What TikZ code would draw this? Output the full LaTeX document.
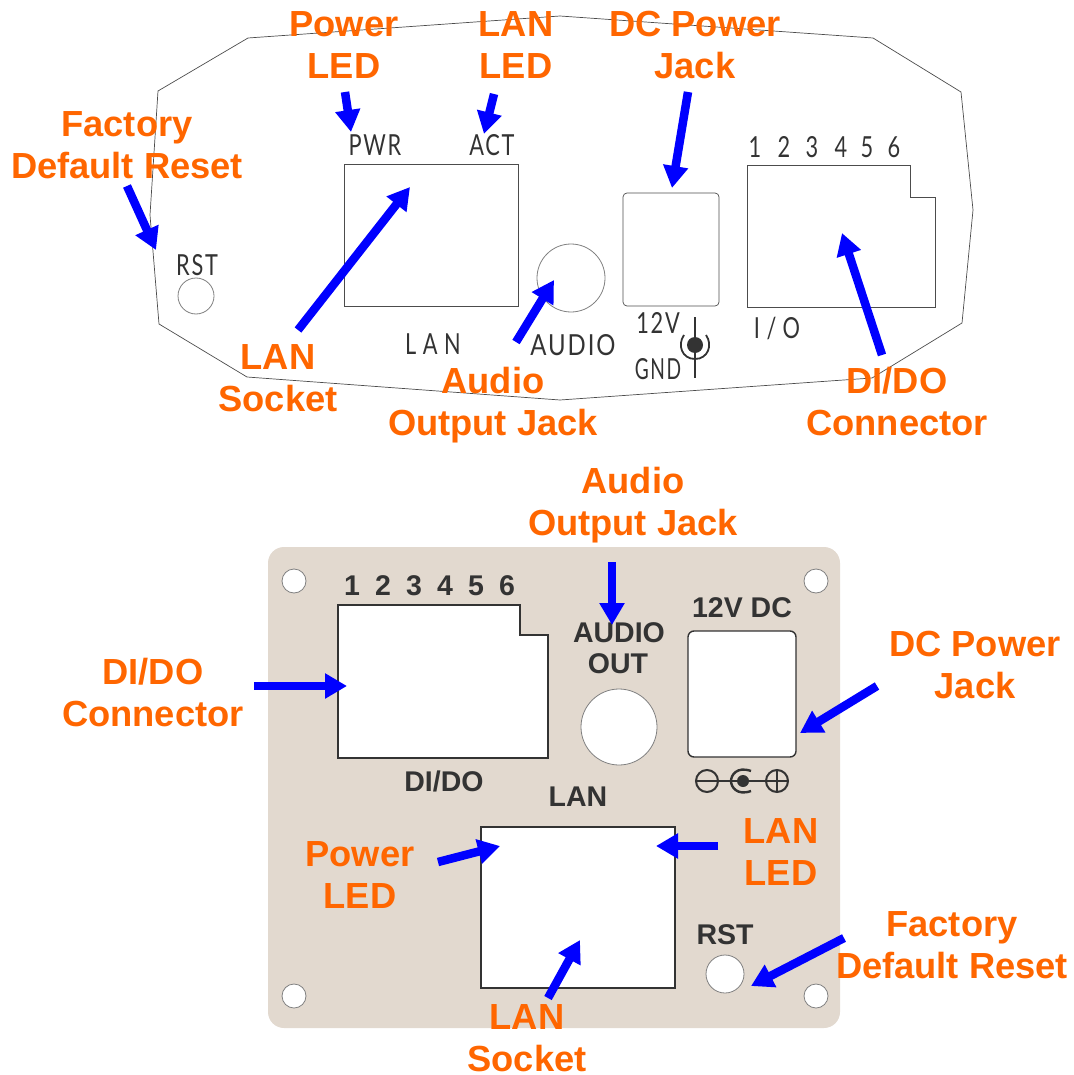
\documentclass[tikz,border=0pt]{standalone}
\usepackage{xcolor}
\usepackage{fontspec}
\setmainfont{Liberation Sans}
\newfontfamily\panelfont[LetterSpace=8]{Lato}
\newfontfamily\panelwide[LetterSpace=30]{Lato}
\usetikzlibrary{arrows.meta}
\definecolor{callout}{HTML}{FF6600}
\definecolor{plate}{HTML}{E2D9CF}
\definecolor{ink}{HTML}{333333}

\begin{document}
\begin{tikzpicture}[
  x=1pt, y=-1pt,
  every node/.style={inner sep=0pt, outer sep=0pt},
  callout/.style={font=\fontsize{36.3}{42}\selectfont\bfseries, text=callout, align=center},
  pointer/.style={draw=blue, line width=8.5pt, -{Triangle[length=22pt, width=24pt]}},
  thinprint/.style={font=\fontsize{29}{29}\selectfont\panelfont, text=ink, xscale=.75},
  wideprint/.style={font=\fontsize{29}{29}\selectfont\panelwide, text=ink, xscale=.75},
  boldprint/.style={font=\fontsize{28.5}{28.5}\selectfont\bfseries, text=ink},
  hole/.style={circle, draw=gray, fill=white, line width=0.8pt},
  outline/.style={draw=black!70, line width=0.7pt},
  cutout/.style={draw=ink, fill=white, line width=1.4pt}
]
  \useasboundingbox (0,0) rectangle (1073,1075);

  \draw[outline] (159,324) -- (150,215) -- (158,91) -- (248,38) -- (560,16) -- (873,38)
    -- (961,92) -- (973,210) -- (962,323) -- (872,378) -- (560,400) -- (247,377) -- cycle;
  \node[hole, minimum size=36pt] (rstT) at (196,296) {};
  \node[hole, minimum size=68pt] (audioT) at (571,278) {};
  \draw[outline] (344,164) rectangle (518,306);
  \draw[outline, rounded corners=4pt] (623,193) rectangle (719,306);
  \draw[outline] (747,165) -- (910,165) -- (910,197) -- (935,197) -- (935,307) -- (747,307) -- cycle;

  \node[thinprint] (pwrT) at (375,145) {PWR};
  \node[thinprint] (actT) at (492,145) {ACT};
  \node[thinprint] (rsttextT) at (197,265) {RST};
  \node[wideprint] (lantextT) at (433,344) {LAN};
  \node[thinprint, xscale=1.1] (audiotextT) at (573,345) {AUDIO};
  \node[wideprint] (ioT) at (777,328) {I/O};
  \node[thinprint] (vT) at (658,323) {12V};
  \node[thinprint, xscale=.88] (gndT) at (658,369) {GND};
  \node[thinprint] (pinAT) at (755,147) {1};
  \node[thinprint] (pinBT) at (784,147) {2};
  \node[thinprint] (pinCT) at (812,147) {3};
  \node[thinprint] (pinDT) at (841,147) {4};
  \node[thinprint] (pinET) at (867,147) {5};
  \node[thinprint] (pinFT) at (894,147) {6};

  \node[circle, fill=ink, minimum size=16pt] (plugT) at (695,345) {};
  \draw[ink, line width=1.8pt] (695,317) -- (plugT.north) (plugT.south) -- (695,378);
  \draw[ink, line width=1.8pt] (684,335) .. controls (677,345) and (682,359) .. (695,359)
    .. controls (708,359) and (713,345) .. (706,335);

  \fill[plate, rounded corners=16pt] (268,547) rectangle (840,1028);
  \node[hole, minimum size=24pt] (holeA) at (294,581) {};
  \node[hole, minimum size=24pt] (holeB) at (816,581) {};
  \node[hole, minimum size=24pt] (holeC) at (294,996) {};
  \node[hole, minimum size=24pt] (holeD) at (816,996) {};
  \node[hole, minimum size=76pt] (audioB) at (619,727) {};
  \node[hole, minimum size=38pt] (rstB) at (725,974) {};
  \draw[cutout] (338,605) -- (520,605) -- (520,635) -- (548,635) -- (548,758) -- (338,758) -- cycle;
  \draw[cutout, rounded corners=6pt] (688,631) rectangle (796,757);
  \draw[cutout] (481,827) rectangle (675,988);

  \node[boldprint] (pinAB) at (352,586) {1};
  \node[boldprint] (pinBB) at (383,586) {2};
  \node[boldprint] (pinCB) at (414,586) {3};
  \node[boldprint] (pinDB) at (445,586) {4};
  \node[boldprint] (pinEB) at (476,586) {5};
  \node[boldprint] (pinFB) at (507,586) {6};
  \node[boldprint] (vdcB) at (742,608) {12V DC};
  \node[boldprint] (audiotextB) at (619,633) {AUDIO};
  \node[boldprint] (outB) at (618,664) {OUT};
  \node[boldprint] (didoB) at (444,781) {DI/DO};
  \node[boldprint] (lantextB) at (578,797) {LAN};
  \node[boldprint] (rsttextB) at (725,935) {RST};

  \node[circle, draw=ink, line width=2pt, minimum size=22pt] (minusB) at (707,781) {};
  \node[circle, draw=ink, line width=2pt, minimum size=22pt] (plusB) at (777,781) {};
  \node[circle, fill=ink, minimum size=12pt] (plugB) at (743,781) {};
  \draw[ink, line width=2pt] (minusB.west) -- (minusB.east) -- (plugB.west);
  \draw[ink, line width=2pt] (plugB.east) -- (plusB.west) -- (plusB.east);
  \draw[ink, line width=2pt] (plusB.north) -- (plusB.south);
  \draw[ink, line width=2.4pt] (751,771) .. controls (737,766) and (731,775) .. (731,781)
    .. controls (731,787) and (737,796) .. (751,791);

  \node[callout] (powerledT) at (344,45) {Power\\LED};
  \node[callout] (lanledT) at (516,45) {LAN\\LED};
  \node[callout] (dcjackT) at (695,45) {DC Power\\Jack};
  \node[callout] (factoryT) at (127,145) {Factory\\Default Reset};
  \node[callout] (socketT) at (278,378) {LAN\\Socket};
  \node[callout] (audiojackT) at (493,405) {Audio\\Output Jack};
  \node[callout] (connectorT) at (897,402) {DI/DO\\Connector};
  \node[callout] (audiojackB) at (633,505) {Audio\\Output Jack};
  \node[callout] (connectorB) at (153,693) {DI/DO\\Connector};
  \node[callout] (dcjackB) at (975,665) {DC Power\\Jack};
  \node[callout] (powerledB) at (360,875) {Power\\LED};
  \node[callout] (lanledB) at (781,852) {LAN\\LED};
  \node[callout] (factoryB) at (952,945) {Factory\\Default Reset};
  \node[callout] (socketB) at (527,1038) {LAN\\Socket};

  \coordinate (powerledTs) at (345,92);   \coordinate (powerledTe) at (351,132);
  \coordinate (lanledTs) at (494,94);     \coordinate (lanledTe) at (484,134);
  \coordinate (dcjackTs) at (688,92);     \coordinate (dcjackTe) at (672,188);
  \coordinate (factoryTs) at (127,186);   \coordinate (factoryTe) at (156,250);
  \coordinate (socketTs) at (298,330);    \coordinate (socketTe) at (410,187);
  \coordinate (audiojackTs) at (516,342); \coordinate (audiojackTe) at (554,280);
  \coordinate (connectorTs) at (882,355); \coordinate (connectorTe) at (842,233);
  \coordinate (audiojackBs) at (612,562); \coordinate (audiojackBe) at (612,625);
  \coordinate (connectorBs) at (254,686); \coordinate (connectorBe) at (347,686);
  \coordinate (dcjackBs) at (877,686);    \coordinate (dcjackBe) at (800,733);
  \coordinate (powerledBs) at (438,862);  \coordinate (powerledBe) at (500,846);
  \coordinate (lanledBs) at (718,846);    \coordinate (lanledBe) at (656,846);
  \coordinate (factoryBs) at (844,938);   \coordinate (factoryBe) at (751,986);
  \coordinate (socketBs) at (548,998);    \coordinate (socketBe) at (580,940);

  \draw[pointer] (powerledTs) -- (powerledTe);
  \draw[pointer] (lanledTs) -- (lanledTe);
  \draw[pointer] (dcjackTs) -- (dcjackTe);
  \draw[pointer] (factoryTs) -- (factoryTe);
  \draw[pointer] (socketTs) -- (socketTe);
  \draw[pointer] (audiojackTs) -- (audiojackTe);
  \draw[pointer] (connectorTs) -- (connectorTe);
  \draw[pointer] (audiojackBs) -- (audiojackBe);
  \draw[pointer] (connectorBs) -- (connectorBe);
  \draw[pointer] (dcjackBs) -- (dcjackBe);
  \draw[pointer] (powerledBs) -- (powerledBe);
  \draw[pointer] (lanledBs) -- (lanledBe);
  \draw[pointer] (factoryBs) -- (factoryBe);
  \draw[pointer] (socketBs) -- (socketBe);
\end{tikzpicture}
\end{document}
